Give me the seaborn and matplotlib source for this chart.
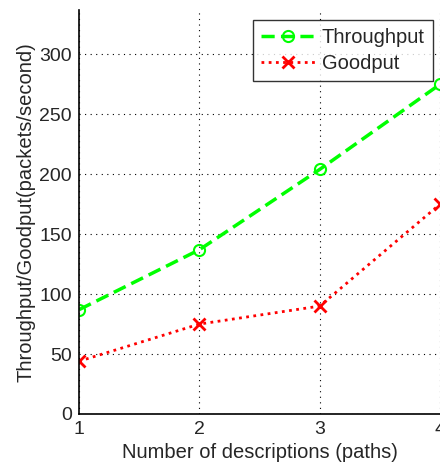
import pandas as pd
import matplotlib
matplotlib.use('Agg')
import matplotlib.pyplot as plt
import seaborn as sns

# Data
paths = [1, 2, 3, 4]
throughput = [87, 137, 204, 275]
goodput = [44, 75, 90, 175]
y_ticks = [0, 50, 100, 150, 200, 250, 300]

data = pd.DataFrame({'paths': paths, 'Throughput': throughput, 'Goodput': goodput})

sns.set_style('white')
plt.rcParams['font.family'] = ['Liberation Sans', 'DejaVu Sans']

fig = plt.figure(figsize=(4.4, 4.71), dpi=100)
ax = fig.add_axes([79 / 440, 57 / 471, 361 / 440, 404 / 471])

sns.lineplot(data=data, x='paths', y='Throughput', ax=ax, color='#00ff00',
             linestyle=(0, (3.8, 1.8)), linewidth=2.5, marker='o', markersize=8,
             markerfacecolor='none', markeredgecolor='#00ff00', markeredgewidth=1.5,
             label='Throughput')
sns.lineplot(data=data, x='paths', y='Goodput', ax=ax, color='#ff0000',
             linestyle=(0, (1, 1.6)), linewidth=2, marker='x', markersize=8,
             markeredgewidth=2, markeredgecolor='#ff0000', label='Goodput')

ax.set_xlim(1, 4)
ax.set_ylim(0, 337)
ax.set_xticks(paths)
ax.set_yticks(y_ticks)
ax.grid(True, color='black', linestyle=(0, (1, 4)), linewidth=0.8)
ax.tick_params(direction='in', labelsize=14, length=4, color='black', pad=5)
for side in ['top', 'right']:
    ax.spines[side].set_visible(False)
for side in ['left', 'bottom']:
    ax.spines[side].set_color('black')
    ax.spines[side].set_linewidth(1.2)

ax.set_xlabel('Number of descriptions (paths)', fontsize=14.5, labelpad=4)
ax.set_ylabel('Throughput/Goodput(packets/second)', fontsize=14.5, labelpad=3)

leg = ax.legend(loc='upper right', bbox_to_anchor=(0.98, 0.975), fontsize=14.5,
                frameon=True, fancybox=False, edgecolor='black', handlelength=2.7,
                borderpad=0.4, labelspacing=0.35, handletextpad=0.3, borderaxespad=0)
leg.get_frame().set_linewidth(1)

fig.savefig('out.png', dpi=100)
